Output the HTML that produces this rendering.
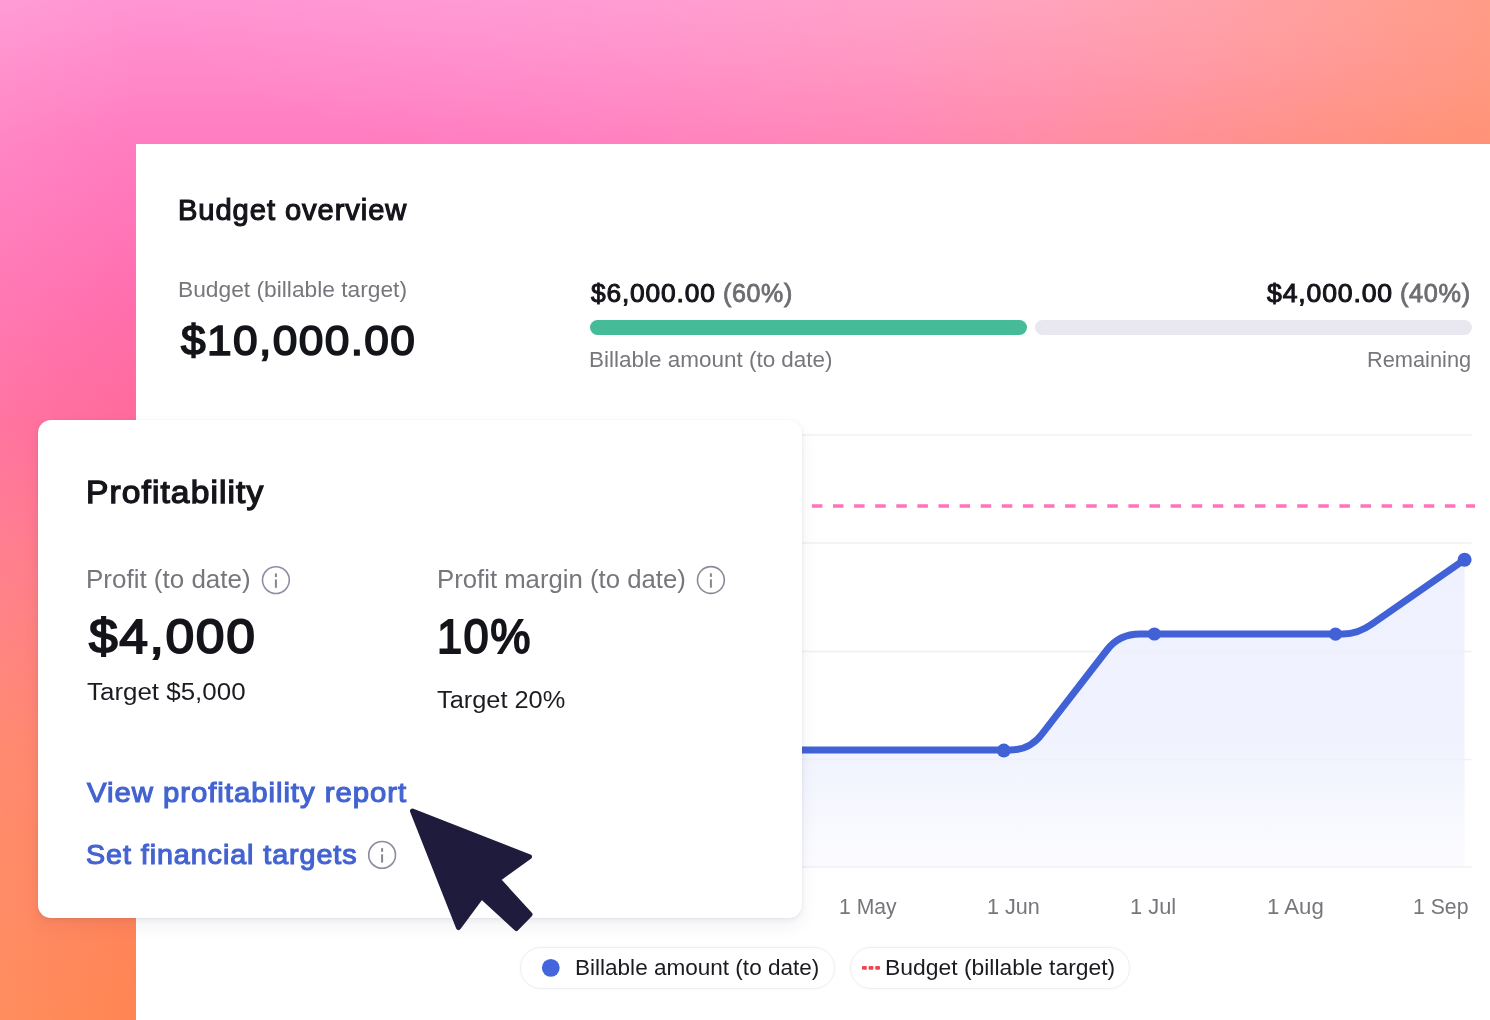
<!DOCTYPE html>
<html lang="en">
<head>
<meta charset="utf-8">
<title>Budget overview</title>
<style>
html,body{margin:0;padding:0}
body{width:1490px;height:1020px;overflow:hidden;position:relative;font-family:"Liberation Sans",sans-serif;
background:
 linear-gradient(90deg, rgba(255,255,255,.07) 0, rgba(255,255,255,0) 140px),
 radial-gradient(ellipse 900px 230px at 1050px 0, rgba(255,255,255,.14) 0, rgba(255,255,255,0) 100%),
 radial-gradient(ellipse 520px 110px at 1490px 165px, rgba(255,140,98,.40) 0, rgba(255,140,98,0) 100%),
 linear-gradient(90deg, rgba(255,150,110,0) 520px, rgba(255,150,110,.07) 700px, rgba(255,150,110,.18) 900px, rgba(255,150,110,.5) 1200px, rgba(255,148,110,.86) 1490px),
 linear-gradient(180deg, #ff95d3 0, #ff7cc0 144px, #ff6eae 300px, #ff6a9a 420px, #ff7a80 600px, #ff8266 750px, #ff8552 1020px);
}
.panel{position:absolute;left:136px;top:144px;width:1354px;height:876px;background:#fff}
.card{position:absolute;left:38px;top:420px;width:764px;height:497.6px;border-radius:13px;background:#fff;box-shadow:0 8px 18px rgba(50,40,80,.06),0 2px 5px rgba(50,40,80,.07),0 0 2px rgba(50,40,80,.06)}
.t{position:absolute;white-space:nowrap;line-height:1;transform-origin:0 0;margin:0;padding:0;text-decoration:none;display:block}
.bar{position:absolute;top:320.1px;height:15px;border-radius:8px}
.bar.g{left:589.7px;width:437.3px;background:#46bb97}
.bar.r{left:1034.5px;width:437.4px;background:#e9e8f0}
.pill{position:absolute;top:946.8px;height:42px;border-radius:21px;border:1.5px solid #f0f0f3;box-shadow:0 0 3px rgba(60,60,90,.04);background:#fff;box-sizing:border-box}
svg{position:absolute;left:0;top:0}
</style>
</head>
<body>
<main class="budget">
<div class="panel"></div>
<header>
<h1 id="t0" class="t h1" style="left:177.95px;top:196.16px;font-size:28.66px;font-weight:normal;color:#14141b;transform:scaleX(1.0163);letter-spacing:0.92px;-webkit-text-stroke:1.15px #14141b">Budget overview</h1>
</header>
<section class="summary">
<p id="t1" class="t lbl" style="left:178.32px;top:278.92px;font-size:22.30px;font-weight:normal;color:#76767c;transform:scaleX(1.0209)">Budget (billable target)</p>
<p id="t2" class="t big" style="left:181.07px;top:319.32px;font-size:43.39px;font-weight:normal;color:#14141b;transform:scaleX(1.0203);letter-spacing:1.36px;-webkit-text-stroke:1.70px #14141b">$10,000.00</p>
<div class="progress">
<span id="t3" class="t amt" style="left:591.02px;top:281.45px;font-size:25.34px;font-weight:normal;color:#14141b;transform:scaleX(1.0397);letter-spacing:0.80px;-webkit-text-stroke:1.00px #14141b">$6,000.00</span>
<span id="t4" class="t pct" style="left:723.42px;top:280.72px;font-size:25.14px;font-weight:normal;color:#6c6c72;transform:scaleX(0.9958);letter-spacing:0.64px;-webkit-text-stroke:0.80px #6c6c72">(60%)</span>
<span id="t5" class="t amt" style="left:1267.23px;top:281.45px;font-size:25.34px;font-weight:normal;color:#14141b;transform:scaleX(1.0502);letter-spacing:0.80px;-webkit-text-stroke:1.00px #14141b">$4,000.00</span>
<span id="t6" class="t pct" style="left:1400.22px;top:280.72px;font-size:25.14px;font-weight:normal;color:#6c6c72;transform:scaleX(1.0069);letter-spacing:0.64px;-webkit-text-stroke:0.80px #6c6c72">(40%)</span>
<div class="bar g"></div><div class="bar r"></div>
<p id="t7" class="t lbl" style="left:589.34px;top:348.92px;font-size:22.30px;font-weight:normal;color:#76767c;transform:scaleX(1.0079)">Billable amount (to date)</p>
<p id="t8" class="t lbl" style="left:1366.94px;top:348.97px;font-size:22.30px;font-weight:normal;color:#76767c;transform:scaleX(0.9768)">Remaining</p>
</div>
</section>
<section class="chart-wrap">
<svg class="chart" role="img" aria-label="Billable amount over time" width="1490" height="1020" viewBox="0 0 1490 1020">
 <defs>
  <linearGradient id="area" gradientUnits="userSpaceOnUse" x1="0" y1="560" x2="0" y2="867">
   <stop offset="0" stop-color="#eff2fe"/><stop offset="0.6" stop-color="#f0f3fe"/><stop offset="1" stop-color="#fcfcff"/>
  </linearGradient>
 </defs>
 <path d="M600,750 L1010,750 Q1030,750 1042,734 L1107,650 Q1119,634 1140,634 L1343,634 Q1358,634 1372,624 L1464.6,559.7 L1464.6,867 L600,867 Z" fill="url(#area)"/>
 <g stroke="#f0eff3" stroke-width="1.5">
  <line x1="600" x2="1471.5" y1="435" y2="435"/>
  <line x1="600" x2="1471.5" y1="543" y2="543"/>
  <line x1="600" x2="1471.5" y1="651.5" y2="651.5"/>
  <line x1="600" x2="1471.5" y1="759.5" y2="759.5"/>
  <line x1="600" x2="1471.5" y1="867" y2="867"/>
 </g>
 <line x1="811.9" x2="1475" y1="506" y2="506" stroke="#ff72bc" stroke-width="3.6" stroke-dasharray="10.5 10.6"/>
 <path d="M600,750 L1010,750 Q1030,750 1042,734 L1107,650 Q1119,634 1140,634 L1343,634 Q1358,634 1372,624 L1464.6,559.7" fill="none" stroke="#4062d6" stroke-width="7" stroke-linejoin="round" stroke-linecap="round"/>
 <g fill="#4062d6">
  <circle cx="1003.8" cy="750.6" r="7"/><circle cx="1154.4" cy="634" r="6.6"/><circle cx="1335.5" cy="634.2" r="6.6"/><circle cx="1464.6" cy="559.7" r="7"/>
 </g>
</svg>
<div class="axis">
<span id="t18" class="t ax" style="left:839.18px;top:895.61px;font-size:22.20px;font-weight:normal;color:#76767c;transform:scaleX(0.9525)">1 May</span>
<span id="t19" class="t ax" style="left:987.05px;top:895.61px;font-size:22.20px;font-weight:normal;color:#76767c;transform:scaleX(0.9734)">1 Jun</span>
<span id="t20" class="t ax" style="left:1130.43px;top:895.61px;font-size:22.20px;font-weight:normal;color:#76767c;transform:scaleX(0.9854)">1 Jul</span>
<span id="t21" class="t ax" style="left:1267.31px;top:895.61px;font-size:22.20px;font-weight:normal;color:#76767c;transform:scaleX(1.0007)">1 Aug</span>
<span id="t22" class="t ax" style="left:1413.31px;top:895.61px;font-size:22.20px;font-weight:normal;color:#76767c;transform:scaleX(0.9564)">1 Sep</span>
</div>
<div class="legend">
<div class="pill" style="left:519.5px;width:315.5px"></div>
<div class="pill" style="left:849.8px;width:280.5px"></div>
<svg class="legend-marks" aria-hidden="true" width="1490" height="1020" viewBox="0 0 1490 1020">
 <circle cx="550.8" cy="967.85" r="8.9" fill="#4466dc"/>
 <g fill="#ef4650"><rect x="862" y="966" width="4.8" height="3.8" rx="1"/><rect x="868.6" y="966" width="4.8" height="3.8" rx="1"/><rect x="875.2" y="966" width="4.8" height="3.8" rx="1"/></g>
</svg>
<span id="t23" class="t lg" style="left:575.24px;top:956.97px;font-size:22.30px;font-weight:normal;color:#1b1b21;transform:scaleX(1.0108)">Billable amount (to date)</span>
<span id="t24" class="t lg" style="left:884.51px;top:957.02px;font-size:22.30px;font-weight:normal;color:#1b1b21;transform:scaleX(1.0263)">Budget (billable target)</span>
</div>
</section>
</main>
<aside class="profitability">
<div class="card"></div>
<h2 id="t9" class="t h2" style="left:86.06px;top:476.03px;font-size:32.04px;font-weight:normal;color:#14141b;transform:scaleX(1.0478);letter-spacing:1.04px;-webkit-text-stroke:1.30px #14141b">Profitability</h2>
<div class="metric">
<p id="t10" class="t clbl" style="left:85.87px;top:566.52px;font-size:25.20px;font-weight:normal;color:#76767c;transform:scaleX(1.0314)">Profit (to date)</p>
<p id="t11" class="t cbig" style="left:88.90px;top:612.30px;font-size:48.96px;font-weight:normal;color:#14141b;transform:scaleX(1.0541);letter-spacing:1.52px;-webkit-text-stroke:1.90px #14141b">$4,000</p>
<p id="t12" class="t tgt" style="left:86.99px;top:679.79px;font-size:24.70px;font-weight:normal;color:#1b1b21;transform:scaleX(1.0503)">Target $5,000</p>
</div>
<div class="metric">
<p id="t13" class="t clbl" style="left:436.84px;top:566.52px;font-size:25.20px;font-weight:normal;color:#76767c;transform:scaleX(1.0213)">Profit margin (to date)</p>
<p id="t14" class="t cbig" style="left:436.65px;top:612.30px;font-size:48.96px;font-weight:normal;color:#14141b;transform:scaleX(0.9252);letter-spacing:1.52px;-webkit-text-stroke:1.90px #14141b">10%</p>
<p id="t15" class="t tgt" style="left:437.00px;top:687.84px;font-size:24.70px;font-weight:normal;color:#1b1b21;transform:scaleX(1.0269)">Target 20%</p>
</div>
<svg class="info-icons" aria-hidden="true" width="1490" height="1020" viewBox="0 0 1490 1020">
 <g>
  <circle cx="275.9" cy="580.1" r="13.4" fill="none" stroke="#8d8daa" stroke-width="1.6"/><rect x="274.9" y="573.4" width="2" height="3.6" fill="#86868f"/><rect x="274.9" y="579.5" width="2" height="8.3" fill="#86868f"/>
  <circle cx="710.9" cy="580.0" r="13.4" fill="none" stroke="#8b8b96" stroke-width="1.6"/><rect x="709.9" y="573.3" width="2" height="3.6" fill="#86868f"/><rect x="709.9" y="579.4" width="2" height="8.3" fill="#86868f"/>
  <circle cx="382.1" cy="854.9" r="13.4" fill="none" stroke="#8a8b9c" stroke-width="1.6"/><rect x="381.1" y="848.2" width="2" height="3.6" fill="#86868f"/><rect x="381.1" y="854.3" width="2" height="8.3" fill="#86868f"/>
 </g>
</svg>
<nav class="links">
<a id="t16" class="t lnk" href="#" style="left:87.49px;top:777.97px;font-size:28.54px;font-weight:normal;color:#4363d1;transform:scaleX(1.0288);letter-spacing:0.92px;-webkit-text-stroke:1.15px #4363d1">View profitability report</a>
<a id="t17" class="t lnk" href="#" style="left:86.08px;top:839.87px;font-size:28.54px;font-weight:normal;color:#4363d1;transform:scaleX(1.0059);letter-spacing:0.92px;-webkit-text-stroke:1.15px #4363d1">Set financial targets</a>
</nav>
</aside>
<svg class="cursor" aria-hidden="true" width="1490" height="1020" viewBox="0 0 1490 1020">
 <polygon points="412.5,811 529.5,856.8 498,879.4 530,914.5 516.3,928.5 481.5,896.5 458.5,927.5" fill="#1f1b3d" stroke="#1f1b3d" stroke-width="5" stroke-linejoin="round"/>
</svg>
</body>
</html>
